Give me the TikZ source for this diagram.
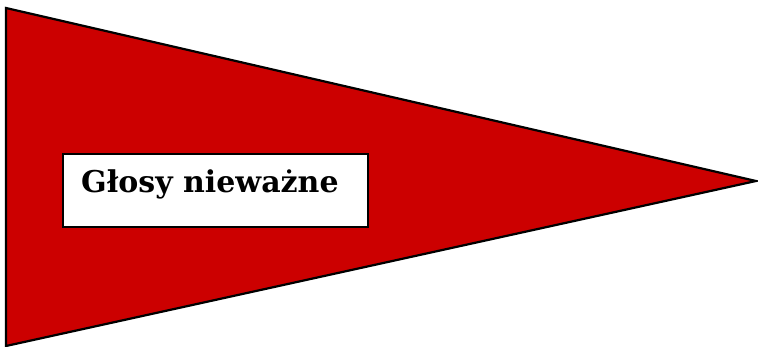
\documentclass[tikz,border=0pt]{standalone}
\usepackage{fontspec}
\newfontfamily\labelfont{DejaVu Serif}
\definecolor{flagred}{RGB}{204,0,0}
\begin{document}
\begin{tikzpicture}[x=1pt,y=-1pt,
  flag/.style={fill=flagred,draw=black,line width=2.2pt,line join=miter},
  labelbox/.style={fill=white,draw=black,line width=1.6pt},
  labeltext/.style={inner sep=0pt,anchor=base west,font=\labelfont\bfseries\fontsize{30}{36}\selectfont}]
\useasboundingbox (0,0) rectangle (758,347);
\coordinate (tl) at (6,8);
\coordinate (bl) at (6,346);
\coordinate (tip) at (756,181);
\draw[flag] (tl) -- (tip) -- (bl) -- cycle;
\node[labelbox,minimum width=305pt,minimum height=73pt,inner sep=0pt,anchor=north west] (box) at (62,153) {};
\node[labeltext] (lbl) at (81,193) {Głosy nieważne};
\end{tikzpicture}
\end{document}
